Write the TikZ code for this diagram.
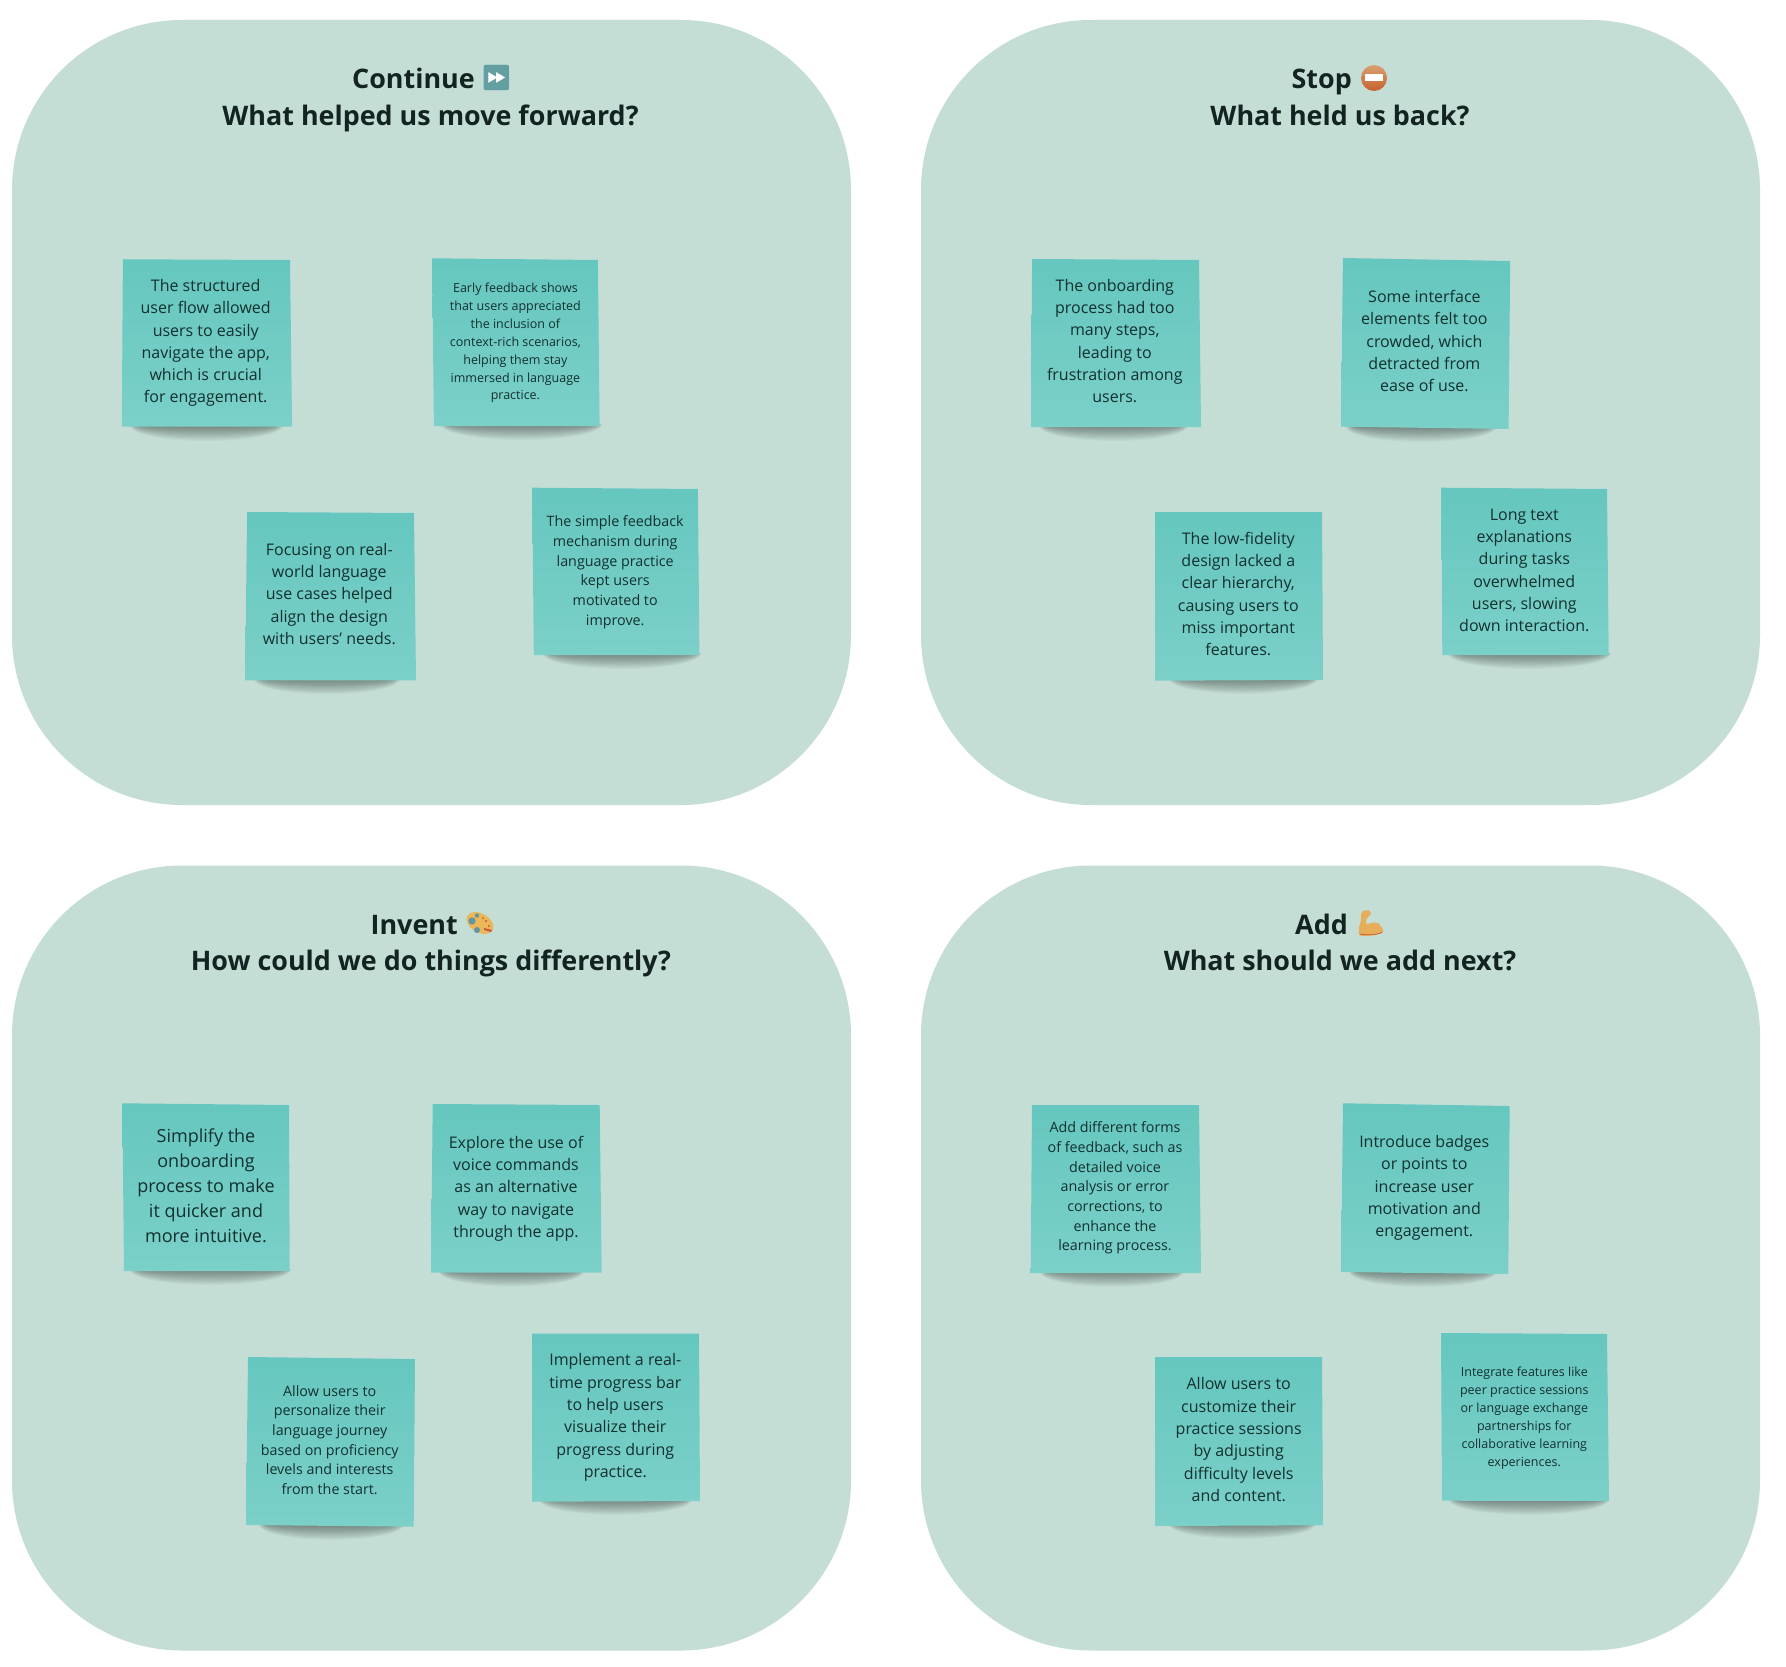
\documentclass[tikz,border=0pt]{standalone}
\usepackage{fontspec}
\setmainfont{Open Sans}
\newfontfamily\emojifont{Noto Emoji}
\definecolor{panelc}{HTML}{C4DED6}
\definecolor{notetop}{HTML}{65C7BF}
\definecolor{notebot}{HTML}{7BD0C8}
\definecolor{inkc}{HTML}{12302E}
\definecolor{headc}{HTML}{132321}
\definecolor{HeaderB}{HTML}{639EA1}
\definecolor{StopA}{HTML}{D9A070}
\definecolor{StopB}{HTML}{C4622E}
\definecolor{PalA}{HTML}{EBB758}
\definecolor{PalC}{HTML}{5F97A2}
\definecolor{PalD}{HTML}{C65A3C}
\definecolor{MusA}{HTML}{E6AE5A}
\tikzset{
  panel/.style={rectangle,fill=panelc,rounded corners=170pt,minimum width=839pt,minimum height=785pt,inner sep=0pt},
  headline/.style={font=\fontsize{26.9}{37}\selectfont\bfseries,text=headc,inner sep=0pt,anchor=base},
  headword/.style={headline,anchor=base east},
  notetext/.style={align=center,text=inkc,inner sep=0pt,anchor=center},
  stdtext/.style={notetext,font=\fontsize{16}{22.3}\selectfont},
  bigtext/.style={notetext,font=\fontsize{18}{25}\selectfont},
  midtext/.style={notetext,font=\fontsize{14.3}{19.7}\selectfont},
  smalltext/.style={notetext,font=\fontsize{12.5}{17.9}\selectfont},
  emoji/.style={font=\emojifont\fontsize{25}{25}\selectfont,inner sep=0pt,anchor=center}
}
% corners TL TR BR BL, shadow left, shadow right, shadow top
\newcommand{\stickynote}[7]{%
  \foreach \k in {1,...,12}{%
    \fill[black,opacity=0.035]
      ({#5+4-\k*0.7},{#7-2}) .. controls ({#5+4-\k*0.5},{#7+\k*1.6}) and ({#6-4+\k*0.5},{#7+\k*1.6}) .. ({#6-4+\k*0.7},{#7-2}) -- cycle;
  }%
  \shade[top color=notetop,bottom color=notebot] (#1) -- (#2) -- (#3) -- (#4) -- cycle;
}
\begin{document}
\begin{tikzpicture}[x=1pt,y=-1pt]
\useasboundingbox (0,0) rectangle (1786,1667);
\fill[white] (0,0) rectangle (1786,1667);
\node[panel] (p1) at (431.5,412.5) {};
\node[panel] (p2) at (1340.5,412.5) {};
\node[panel] (p3) at (431.5,1258) {};
\node[panel] (p4) at (1340.5,1258) {};

% Continue
\node[headword] (h1a) at (475,89) {Continue};
\node[headline] (h1b) at (430.5,125.5) {What helped us move forward?};
\fill[white] (486,67) rectangle (507,88);
\node[emoji,text=HeaderB] (e1) at (496.5,77.5) {⏩};

% Stop
\node[headword] (h2a) at (1352,89) {Stop};
\node[headline] (h2b) at (1340,125.5) {What held us back?};
\shade[top color=StopA,bottom color=StopB] (1374,78) circle (13);
\fill[white] (1365,74.5) rectangle (1383,81.5);

% Invent
\node[headword] (h3a) at (458,934) {Invent};
\node[headline] (h3b) at (431,970.5) {How could we do things differently?};
\fill[PalA,rotate around={-30:(480,923)}] (480,923) ellipse (14.5 and 9.5);
\fill[PalC] (472,921) circle (3.6);
\fill[PalC] (477,930) circle (3);
\fill[PalC] (477,915.5) circle (2.2);
\fill[PalD] (486,921) circle (1.1) (489,926) circle (1.1) (483,918) circle (1);
\fill[PalD] (484,928) -- (492,930) -- (491,932) -- (484,930) -- cycle;

% Add
\node[headword] (h4a) at (1348,934) {Add};
\node[headline] (h4b) at (1340,970.5) {What should we add next?};
\fill[MusA] plot[smooth cycle] coordinates {(1363,911)(1369,910.5)(1371,914)(1367,918)(1366,924)(1371,923)(1378,923)(1383,930)(1382,933)(1372,935.5)(1360,935.5)(1359,928)(1361,920)(1361,915)};
\draw[PalD,line width=.7pt] (1360,934) .. controls (1368,935.5) and (1376,935) .. (1382,932.5);

% Continue notes
\stickynote{122.9,259.3}{290,260}{292.1,426.7}{121.8,426.7}{134}{279}{427}
\node[stdtext] (n1) at (205.7,343) {The structured\\user flow allowed\\users to easily\\navigate the app,\\which is crucial\\for engagement.};
\stickynote{432.1,258.3}{597.9,260}{599.6,426}{433.9,426}{445}{598}{426}
\node[smalltext] (n2) at (515.4,343) {Early feedback shows\\that users appreciated\\the inclusion of\\context-rich scenarios,\\helping them stay\\immersed in language\\practice.};
\stickynote{247.1,512}{414,513}{416,680.3}{245.1,680.3}{258}{396}{680.3}
\node[stdtext] (n3) at (329.3,594) {Focusing on real-\\world language\\use cases helped\\align the design\\with users' needs.};
\stickynote{532.2,487.7}{697.9,489}{699.4,655}{533.8,655}{547}{697}{655}
\node[midtext] (n4) at (615.2,572.3) {The simple feedback\\mechanism during\\language practice\\kept users\\motivated to\\improve.};

% Stop notes
\stickynote{1032.1,259}{1199,260}{1201,427}{1031,427}{1043}{1184}{427}
\node[stdtext] (s1) at (1114.8,341) {The onboarding\\process had too\\many steps,\\leading to\\frustration among\\users.};
\stickynote{1342.9,258}{1510.2,261}{1508.6,429}{1341,426.7}{1350}{1493}{428}
\node[stdtext] (s2) at (1424.4,341) {Some interface\\elements felt too\\crowded, which\\detracted from\\ease of use.};
\stickynote{1155,512}{1322,512}{1323,680}{1155,680.7}{1173}{1314}{680}
\node[stdtext] (s3) at (1238.3,594) {The low-fidelity\\design lacked a\\clear hierarchy,\\causing users to\\miss important\\features.};
\stickynote{1441.3,487.7}{1607,489}{1608.7,655}{1442.3,655}{1452}{1607}{655}
\node[stdtext] (s4) at (1524.3,570.5) {Long text\\explanations\\during tasks\\overwhelmed\\users, slowing\\down interaction.};

% Invent notes
\stickynote{122.3,1103.3}{289,1105}{289.7,1271}{124,1271}{134}{287}{1271}
\node[bigtext] (i1) at (206,1186.2) {Simplify the\\onboarding\\process to make\\it quicker and\\more intuitive.};
\stickynote{432.7,1104}{599.7,1105}{601.7,1272.7}{431,1272.7}{443}{580}{1272.7}
\node[stdtext] (i2) at (516,1188.5) {Explore the use of\\voice commands\\as an alternative\\way to navigate\\through the app.};
\stickynote{248,1357}{415,1359}{413.7,1526.7}{246,1525}{263}{400}{1526}
\node[midtext] (i3) at (329.7,1440) {Allow users to\\personalize their\\language journey\\based on proficiency\\levels and interests\\from the start.};
\stickynote{532,1333.7}{699,1333.7}{700,1501}{532,1501.7}{543}{688}{1501}
\node[stdtext] (i4) at (615.3,1417.5) {Implement a real-\\time progress bar\\to help users\\visualize their\\progress during\\practice.};

% Add notes
\stickynote{1032,1105}{1199,1105}{1201,1273}{1030.7,1273}{1044}{1180}{1273}
\node[midtext] (a1) at (1115,1188) {Add different forms\\of feedback, such as\\detailed voice\\analysis or error\\corrections, to\\enhance the\\learning process.};
\stickynote{1343,1103.3}{1509.7,1106}{1508.3,1274}{1341,1272}{1353}{1493}{1273}
\node[stdtext] (a2) at (1424.3,1188) {Introduce badges\\or points to\\increase user\\motivation and\\engagement.};
\stickynote{1155,1357}{1322,1357}{1323,1525.3}{1155,1526}{1172}{1312}{1525}
\node[stdtext] (a3) at (1238.7,1439.7) {Allow users to\\customize their\\practice sessions\\by adjusting\\difficulty levels\\and content.};
\stickynote{1441,1333}{1607,1334}{1609,1501}{1442,1500.7}{1453}{1605}{1501}
\node[smalltext] (a4) at (1524.3,1418) {Integrate features like\\peer practice sessions\\or language exchange\\partnerships for\\collaborative learning\\experiences.};
\end{tikzpicture}
\end{document}
